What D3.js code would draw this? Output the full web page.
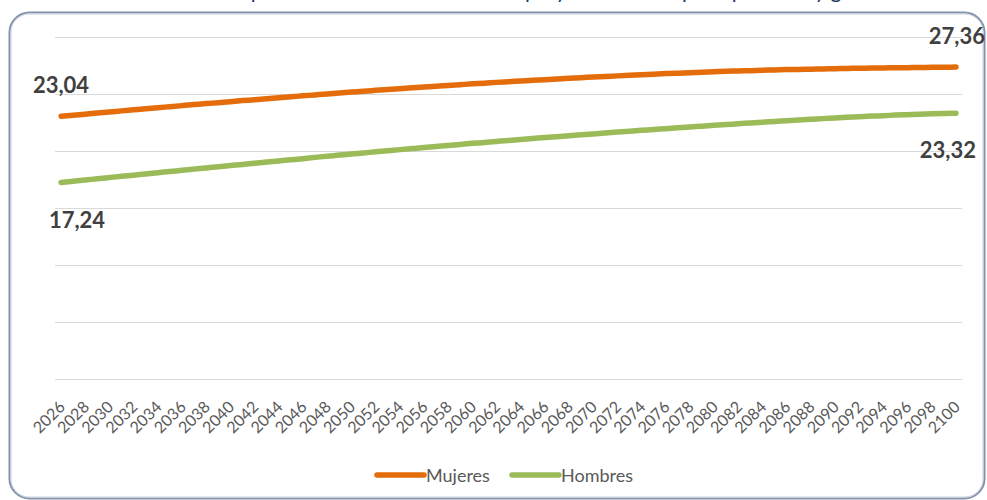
<!DOCTYPE html>
<html><head><meta charset="utf-8">
<script src="https://cdn.jsdelivr.net/npm/d3@7"></script>
<style>
html,body{margin:0;padding:0;background:#fff;}
svg{display:block;}
</style></head>
<body>
<svg id="chart" width="987" height="500"></svg>
<script>
const title = "Esperanza de vida a los 65 años proyectada en España por sexo y género";
const years = [2026,2027,2028,2029,2030,2031,2032,2033,2034,2035,2036,2037,2038,2039,2040,2041,2042,2043,2044,2045,2046,2047,2048,2049,2050,2051,2052,2053,2054,2055,2056,2057,2058,2059,2060,2061,2062,2063,2064,2065,2066,2067,2068,2069,2070,2071,2072,2073,2074,2075,2076,2077,2078,2079,2080,2081,2082,2083,2084,2085,2086,2087,2088,2089,2090,2091,2092,2093,2094,2095,2096,2097,2098,2099,2100];
const tickLabels = [2026,2028,2030,2032,2034,2036,2038,2040,2042,2044,2046,2048,2050,2052,2054,2056,2058,2060,2062,2064,2066,2068,2070,2072,2074,2076,2078,2080,2082,2084,2086,2088,2090,2092,2094,2096,2098,2100];
const mujeres = [23.04,23.14,23.23,23.33,23.42,23.52,23.61,23.70,23.80,23.89,23.98,24.07,24.16,24.24,24.33,24.42,24.50,24.59,24.67,24.76,24.84,24.92,25.00,25.09,25.17,25.24,25.32,25.40,25.47,25.54,25.61,25.69,25.75,25.82,25.89,25.95,26.02,26.08,26.14,26.20,26.26,26.32,26.38,26.43,26.49,26.54,26.59,26.64,26.69,26.74,26.79,26.83,26.87,26.91,26.95,26.99,27.02,27.05,27.08,27.11,27.14,27.16,27.18,27.20,27.22,27.24,27.26,27.27,27.29,27.30,27.31,27.33,27.34,27.35,27.36];
const hombres = [17.24,17.35,17.46,17.56,17.67,17.78,17.88,17.99,18.10,18.20,18.31,18.41,18.51,18.62,18.72,18.82,18.93,19.03,19.13,19.23,19.33,19.44,19.54,19.64,19.74,19.83,19.93,20.02,20.12,20.21,20.30,20.40,20.49,20.58,20.67,20.75,20.84,20.93,21.01,21.10,21.18,21.26,21.34,21.42,21.50,21.58,21.66,21.74,21.81,21.89,21.96,22.04,22.11,22.18,22.25,22.32,22.39,22.46,22.53,22.59,22.66,22.72,22.78,22.84,22.90,22.96,23.01,23.06,23.10,23.15,23.19,23.23,23.26,23.29,23.32];
const yTicks = [0,5,10,15,20,25,30];
const seriesNames = ["Mujeres","Hombres"];
const seriesColors = ["#E46C0A","#9BBB59"];

const svg = d3.select("#chart");
const fmt = v => d3.format(".2f")(v).replace(".", ",");

// frame
svg.append("rect").attr("x",9.5).attr("y",12.5).attr("width",975).attr("height",486)
  .attr("rx",20).attr("ry",20).attr("fill","#fff").attr("stroke","#8393ab").attr("stroke-width",2);
svg.append("rect").attr("x",11).attr("y",14).attr("width",972).attr("height",483)
  .attr("rx",18).attr("ry",18).attr("fill","none").attr("stroke","#c9d1dd").attr("stroke-width",1);

// title (clipped at the top, as in the reference)
svg.append("text").attr("x",562).attr("y",-2).attr("text-anchor","middle")
  .attr("font-family","Lato, 'Open Sans', sans-serif").attr("font-size",21)
  .attr("fill","#1F3864").text(title);

const x = d3.scaleBand().domain(years).range([55,962]).padding(0);
const y = d3.scaleLinear().domain([0,30]).range([379,37]);
const cx = d => x(d) + x.bandwidth()/2;

// gridlines
svg.append("g").selectAll("line").data(yTicks).join("line")
  .attr("x1",55).attr("x2",962).attr("y1",d=>Math.round(y(d))+0.5).attr("y2",d=>Math.round(y(d))+0.5)
  .attr("stroke","#d9d9d9").attr("stroke-width",1);

// x axis labels
const xAxis = d3.axisBottom(x).tickValues(tickLabels).tickSize(0).tickPadding(0);
const gx = svg.append("g").attr("transform","translate(0,388)").call(xAxis);
gx.select(".domain").remove();
gx.selectAll("text")
  .attr("font-family","Lato, 'Open Sans', sans-serif").attr("font-size",16)
  .attr("fill","#595959")
  .attr("text-anchor","end").attr("dy",0)
  .attr("transform","translate(5,20) rotate(-45)");

// lines
const series = [mujeres, hombres];
const line = d3.line().x((d,i)=>cx(years[i])).y(d=>y(d)).curve(d3.curveMonotoneX);
svg.append("g").selectAll("path").data(series).join("path")
  .attr("d",line).attr("fill","none")
  .attr("stroke",(d,i)=>seriesColors[i]).attr("stroke-width",5.5)
  .attr("stroke-linecap","round").attr("stroke-linejoin","round");

// data labels
const last = years.length-1;
const labels = [
  {v: mujeres[0], yr: years[0], dx: 0, dy: -23},
  {v: hombres[0], yr: years[0], dx: 16, dy: 45.5},
  {v: mujeres[last], yr: years[last], dx: 1, dy: -23},
  {v: hombres[last], yr: years[last], dx: -8, dy: 45}
];
svg.append("g").selectAll("text").data(labels).join("text")
  .attr("x",d=>cx(d.yr)+d.dx).attr("y",d=>y(d.v)+d.dy)
  .attr("text-anchor","middle")
  .attr("font-family","Lato, 'Open Sans', sans-serif").attr("font-weight","bold").attr("font-size",22)
  .attr("fill","#404040").text(d=>fmt(d.v));

// legend
const legendX = [377, 512];
const lg = svg.append("g").selectAll("g").data(seriesNames).join("g")
  .attr("transform",(d,i)=>`translate(${legendX[i]},475)`);
lg.append("line").attr("x1",0).attr("x2",47).attr("y1",0).attr("y2",0)
  .attr("stroke",(d,i)=>seriesColors[i]).attr("stroke-width",5.5).attr("stroke-linecap","round");
lg.append("text").attr("x",49).attr("y",7)
  .attr("font-family","Lato, 'Open Sans', sans-serif").attr("font-size",18)
  .attr("fill","#595959").text(d=>d);
</script>
</body></html>
